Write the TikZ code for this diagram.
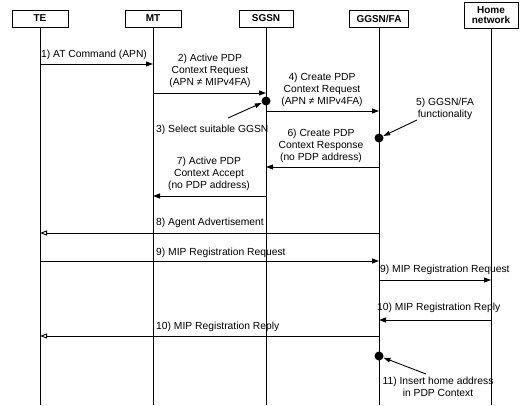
\documentclass[tikz,border=0pt]{standalone}
\usepackage{fontspec}
\setmainfont{Liberation Sans}
\usetikzlibrary{arrows.meta,positioning,calc}

\begin{document}
\begin{tikzpicture}[x=1pt, y=-1pt,
  every node/.style={font=\fontsize{10.3}{12}\selectfont, inner sep=1pt},
  ent/.style={draw, line width=0.8pt, font=\fontsize{10}{12}\selectfont\bfseries,
              minimum width=56pt, minimum height=17pt, inner xsep=7pt, align=center},
  life/.style={line width=0.6pt},
  msg/.style={-{Triangle[length=7pt, width=5pt]}, line width=0.9pt},
  adv/.style={-{Triangle[open, length=7pt, width=5pt]}, line width=0.9pt},
  hint/.style={-{Triangle[length=7pt, width=4.5pt]}, line width=0.9pt},
  lbl/.style={align=center},
  dot/.style={circle, fill, inner sep=0pt, minimum size=9pt}
]
  \useasboundingbox (0,0) rectangle (522,405);

  \node[ent] (te) at (40,18.5) {TE};
  \node[ent] (mt) at (153,18.5) {MT};
  \node[ent, minimum width=54pt] (sgsn) at (266,18.5) {SGSN};
  \node[ent] (ggsn) at (379,18.5) {GGSN/FA};
  \node[ent, minimum width=54pt, minimum height=26pt, inner ysep=1pt] (home) at (491,15) {Home\\[-2pt]network};

  \coordinate (bottom) at (0,405);
  \foreach \n in {te,mt,sgsn,ggsn,home}
    \draw[life] (\n.south) -- (\n.south |- bottom);

  \foreach \m/\y in {m1/64, m2/93, m3/101, m4/111, m5/138, m6/167, m7/196,
                     m8/233, m9/261, m9b/280, m10b/320, m10/336, m11/356}
    \coordinate (\m) at (0,\y);
  \coordinate (p3) at (228,118);
  \coordinate (p5) at (417,120);
  \coordinate (p11) at (426,374);

  \node[lbl, anchor=west] (l1) at (40,55) {1) AT Command (APN)};
  \node[lbl] (l2) at (210,71) {2) Active PDP\\Context Request\\(APN ≠ MIPv4FA)};
  \node[lbl, anchor=west] (l3) at (155,130) {3) Select suitable GGSN};
  \node[lbl] (l4) at (322,90) {4) Create PDP\\Context Request\\(APN ≠ MIPv4FA)};
  \node[lbl] (l5) at (445,109) {5) GGSN/FA\\functionality};
  \node[lbl] (l6) at (321,146) {6) Create PDP\\Context Response\\(no PDP address)};
  \node[lbl] (l7) at (209,174) {7) Active PDP\\Context Accept\\(no PDP address)};
  \node[lbl, anchor=west] (l8) at (155,223) {8) Agent Advertisement};
  \node[lbl, anchor=west] (l9) at (155,253) {9) MIP Registration Request};
  \node[lbl, anchor=west] (l9b) at (379,270) {9) MIP Registration Request};
  \node[lbl, anchor=west] (l10b) at (376,308) {10) MIP Registration Reply};
  \node[lbl, anchor=west] (l10) at (155,327) {10) MIP Registration Reply};
  \node[lbl] (l11) at (438,387) {11) Insert home address\\in PDP Context};

  \node[dot] (d3) at (sgsn |- m3) {};
  \node[dot] (d5) at (ggsn |- m5) {};
  \node[dot] (d11) at (ggsn |- m11) {};

  \draw[msg] (te |- m1) -- (mt |- m1);
  \draw[msg] (mt |- m2) -- (sgsn |- m2);
  \draw[msg] (sgsn |- m4) -- (ggsn |- m4);
  \draw[msg] (ggsn |- m6) -- (sgsn |- m6);
  \draw[msg] (sgsn |- m7) -- (mt |- m7);
  \draw[adv] (ggsn |- m8) -- (te |- m8);
  \draw[msg] (te |- m9) -- (ggsn |- m9);
  \draw[msg] (ggsn |- m9b) -- (home |- m9b);
  \draw[msg] (home |- m10b) -- (ggsn |- m10b);
  \draw[adv] (ggsn |- m10) -- (te |- m10);

  \draw[hint] (p3) -- (d3);
  \draw[hint] (p5) -- (d5);
  \draw[hint] (p11) -- (d11);
\end{tikzpicture}
\end{document}
